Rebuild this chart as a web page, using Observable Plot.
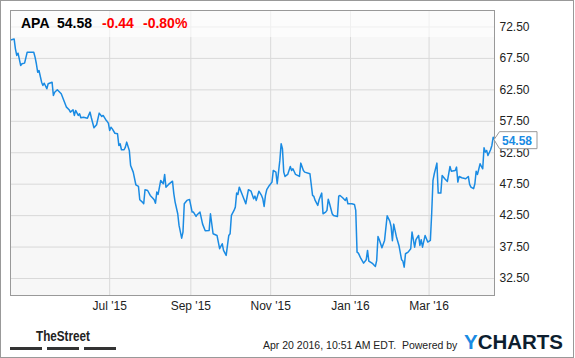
<!DOCTYPE html>
<html><head><meta charset="utf-8">
<script src="https://cdn.jsdelivr.net/npm/d3@7"></script>
<script src="https://cdn.jsdelivr.net/npm/@observablehq/plot@0.6"></script>
<style>body{margin:0;background:#fff;} #chart svg{display:block;}</style>
</head><body><div id="chart"></div>
<script>
const dates = ["2015-04-17","2015-04-19","2015-04-20","2015-04-21","2015-04-22","2015-04-24","2015-04-25","2015-04-27","2015-04-29","2015-05-04","2015-05-05","2015-05-06","2015-05-07","2015-05-08","2015-05-10","2015-05-11","2015-05-12","2015-05-14","2015-05-15","2015-05-18","2015-05-19","2015-05-20","2015-05-22","2015-05-25","2015-05-27","2015-05-29","2015-05-31","2015-06-01","2015-06-03","2015-06-04","2015-06-05","2015-06-07","2015-06-08","2015-06-09","2015-06-11","2015-06-14","2015-06-16","2015-06-17","2015-06-19","2015-06-21","2015-06-23","2015-06-25","2015-06-26","2015-06-28","2015-06-29","2015-06-30","2015-07-01","2015-07-02","2015-07-03","2015-07-05","2015-07-07","2015-07-08","2015-07-09","2015-07-10","2015-07-12","2015-07-13","2015-07-14","2015-07-16","2015-07-17","2015-07-19","2015-07-21","2015-07-23","2015-07-24","2015-07-26","2015-07-27","2015-07-28","2015-07-30","2015-08-01","2015-08-03","2015-08-04","2015-08-05","2015-08-06","2015-08-07","2015-08-09","2015-08-11","2015-08-12","2015-08-13","2015-08-15","2015-08-18","2015-08-19","2015-08-20","2015-08-22","2015-08-23","2015-08-25","2015-08-26","2015-08-27","2015-08-29","2015-08-31","2015-09-02","2015-09-03","2015-09-05","2015-09-06","2015-09-08","2015-09-10","2015-09-12","2015-09-15","2015-09-16","2015-09-18","2015-09-21","2015-09-23","2015-09-25","2015-09-26","2015-09-28","2015-09-30","2015-10-01","2015-10-02","2015-10-04","2015-10-05","2015-10-06","2015-10-07","2015-10-08","2015-10-10","2015-10-13","2015-10-15","2015-10-17","2015-10-19","2015-10-20","2015-10-21","2015-10-23","2015-10-25","2015-10-26","2015-10-27","2015-10-28","2015-10-29","2015-10-31","2015-11-02","2015-11-03","2015-11-05","2015-11-06","2015-11-08","2015-11-09","2015-11-10","2015-11-11","2015-11-12","2015-11-14","2015-11-16","2015-11-17","2015-11-18","2015-11-20","2015-11-23","2015-11-24","2015-11-26","2015-11-27","2015-12-01","2015-12-03","2015-12-04","2015-12-05","2015-12-07","2015-12-08","2015-12-10","2015-12-11","2015-12-13","2015-12-14","2015-12-15","2015-12-16","2015-12-18","2015-12-19","2015-12-22","2015-12-23","2015-12-24","2015-12-26","2015-12-28","2015-12-29","2015-12-30","2016-01-02","2016-01-04","2016-01-05","2016-01-06","2016-01-07","2016-01-09","2016-01-11","2016-01-13","2016-01-14","2016-01-15","2016-01-18","2016-01-20","2016-01-21","2016-01-22","2016-01-23","2016-01-25","2016-01-27","2016-01-29","2016-01-31","2016-02-01","2016-02-02","2016-02-03","2016-02-05","2016-02-07","2016-02-09","2016-02-10","2016-02-11","2016-02-12","2016-02-14","2016-02-16","2016-02-17","2016-02-19","2016-02-20","2016-02-22","2016-02-23","2016-02-24","2016-02-25","2016-02-27","2016-02-28","2016-02-29","2016-03-02","2016-03-03","2016-03-04","2016-03-05","2016-03-07","2016-03-08","2016-03-10","2016-03-11","2016-03-13","2016-03-15","2016-03-17","2016-03-18","2016-03-21","2016-03-22","2016-03-23","2016-03-24","2016-03-26","2016-03-29","2016-03-31","2016-04-01","2016-04-02","2016-04-04","2016-04-05","2016-04-06","2016-04-07","2016-04-09","2016-04-10","2016-04-11","2016-04-12","2016-04-13","2016-04-14","2016-04-15","2016-04-17","2016-04-18","2016-04-19","2016-04-20"];
const prices = [70.47,70.6,69.03,67.97,68.33,66.38,66.65,66.75,68.49,68.49,67.70,66.65,65.31,65.58,63.72,63.2,63.56,62.67,63.47,63.72,61.61,62.13,62.51,61.88,60.81,59.75,59.34,58.96,59.34,58.43,59.23,58.43,58.7,58.06,58.16,58.0,58.96,58.06,56.47,56.95,58.8,58.27,58.43,57.75,57.5,57.2,56.04,56.57,56.3,55.6,55.52,53.66,53.93,52.98,52.98,53.4,54.19,52.87,50.48,49.42,47.41,47.14,45.03,44.65,44.39,46.62,46.5,45.71,45.28,45.03,44.49,46.24,45.87,48.1,47.57,49.05,47.03,47.46,47.98,46.0,44.65,42.8,40.94,38.92,39.88,44.39,44.92,45.08,43.06,43.06,42.37,42.69,43.06,41.15,40.1,40.15,42.8,39.62,39.35,37.24,38.03,36.97,36.17,39.35,39.62,42.53,43.33,43.85,46.08,45.87,47.03,45.98,44.39,46.62,46.39,45.18,45.6,44.92,46.39,45.71,45.18,43.96,45.71,46.62,47.3,47.83,49.69,49.42,47.57,51.28,53.93,53.14,49.42,48.73,49.05,50.32,49.69,49.95,49.05,48.73,50.85,49.69,49.42,49.16,45.71,45.55,44.92,44.12,45.03,46.08,42.8,43.06,43.33,45.12,44.39,42.8,42.53,42.37,45.6,45.71,45.34,44.92,45.34,44.39,44.39,44.28,43.33,36.7,36.54,35.65,34.95,35.49,36.97,35.27,34.85,34.42,35.38,39.19,38.67,37.39,38.56,42.48,41.63,40.78,38.5,41.15,39.19,37.76,35.49,35.27,34.31,36.44,36.7,37.24,39.88,37.49,38.67,39.35,37.76,38.67,37.49,39.35,38.83,38.3,38.56,42.8,48.1,49.16,50.85,46.08,46.08,48.89,48.37,47.94,50.32,49.57,49.69,50.21,47.83,48.73,48.52,48.37,48.73,47.46,47.03,46.78,47.57,49.57,49.05,50.75,50.32,49.95,53.3,52.6,52.87,52.07,52.98,53.66,54.98,54.58];
const yTicks = [32.5, 37.5, 42.5, 47.5, 52.5, 57.5, 62.5, 67.5, 72.5];
const xTicks = ["2015-07-01","2015-09-01","2015-11-01","2016-01-01","2016-03-01"];
const xTickLabels = ["Jul '15","Sep '15","Nov '15","Jan '16","Mar '16"];
const symbol = "APA";
const lastPrice = "54.58";
const change = "-0.44";
const changePct = "-0.80%";
const stamp = "Apr 20 2016, 10:51 AM EDT.  Powered by";

const data = dates.map((d, i) => ({date: new Date(d), price: prices[i]}));
const xTickDates = xTicks.map(d => new Date(d));
const FONT = "'Liberation Sans', Arial, sans-serif";
const BLUE = "#1a8be3";

const chart = Plot.plot({
  width: 575, height: 358,
  marginLeft: 10, marginRight: 81, marginTop: 10, marginBottom: 63,
  style: {fontFamily: FONT, fontSize: "12px", background: "#fff", color: "#222", overflow: "visible"},
  x: {type: "utc", domain: [new Date("2015-04-17"), new Date("2016-04-20")], range: [11, 494]},
  y: {domain: [29.8, 75.12]},
  marks: [
    Plot.frame({fill: "#f7f7f7"}),
    Plot.gridY(yTicks, {stroke: "#d9d9d9", strokeOpacity: 1}),
    Plot.gridX(xTickDates, {stroke: "#d9d9d9", strokeOpacity: 1}),
    Plot.lineY(data, {x: "date", y: "price", stroke: BLUE, strokeWidth: 1.5, strokeLinejoin: "round"}),
    Plot.frame({stroke: "#999"}),
    Plot.axisY(yTicks, {anchor: "right", tickSize: 0, tickPadding: 5, label: null,
      tickFormat: d => d.toFixed(2), fill: "#222", fontSize: 12}),
    Plot.axisX(xTickDates, {anchor: "bottom", tickSize: 0, tickPadding: 6, label: null,
      tickFormat: d => xTickLabels[xTickDates.findIndex(t => +t === +d)], fill: "#222", fontSize: 12})
  ]
});
document.getElementById("chart").appendChild(chart);

const svg = d3.select(chart);
const txt = (sel) => sel.attr("font-family", FONT).attr("text-anchor", "start");
// header band
svg.append("rect").attr("x", 11).attr("y", 11).attr("width", 483).attr("height", 26)
  .attr("fill", "#fff").attr("fill-opacity", 0.6);
const head = svg.append("g").call(txt).attr("font-size", 14).attr("font-weight", "bold");
[[symbol, 21, "#000"], [lastPrice, 57, "#000"], [change, 102, "#f00"], [changePct, 143, "#f00"]]
  .forEach(([t, x, c]) => head.append("text").attr("x", x).attr("y", 28).attr("fill", c)
    .attr("text-anchor", "start").text(t));

// last value callout
const yScale = chart.scale("y");
const yc = yScale.apply(+lastPrice);
const g = svg.append("g");
g.append("path")
  .attr("d", `M494,${yc + 0.5} L499.5,${yc - 7.5} L537,${yc - 7.5} L537,${yc + 9.5} L499.5,${yc + 9.5} Z`)
  .attr("fill", "#fff").attr("stroke", "#999").attr("stroke-width", 1);
g.append("text").call(txt).attr("x", 502).attr("y", yc + 5.5)
  .attr("font-size", 12).attr("font-weight", "bold").attr("fill", BLUE).text(lastPrice);

// footer
svg.append("text").call(txt).attr("x", 36).attr("y", 341)
  .attr("font-size", 15).attr("font-weight", "bold").attr("fill", "#222")
  .attr("textLength", 54).attr("lengthAdjust", "spacingAndGlyphs").text("TheStreet");
[10, 47, 84].forEach(x => svg.append("rect").attr("x", x).attr("y", 347).attr("width", 32)
  .attr("height", 3).attr("fill", "#333"));
svg.append("text").call(txt).attr("x", 263).attr("y", 349)
  .attr("font-size", 10.5).attr("fill", "#222").text(stamp);
const yc2 = svg.append("text").call(txt).attr("x", 464).attr("y", 349)
  .attr("font-size", 21).attr("font-weight", "bold").attr("textLength", 99)
  .attr("lengthAdjust", "spacingAndGlyphs");
yc2.append("tspan").attr("fill", BLUE).text("Y");
yc2.append("tspan").attr("fill", "#0d1e2f").text("CHARTS");

// outer border
svg.append("rect").attr("x", 0.5).attr("y", 0.5).attr("width", 573).attr("height", 357)
  .attr("fill", "none").attr("stroke", "#999");
</script>
</body></html>
